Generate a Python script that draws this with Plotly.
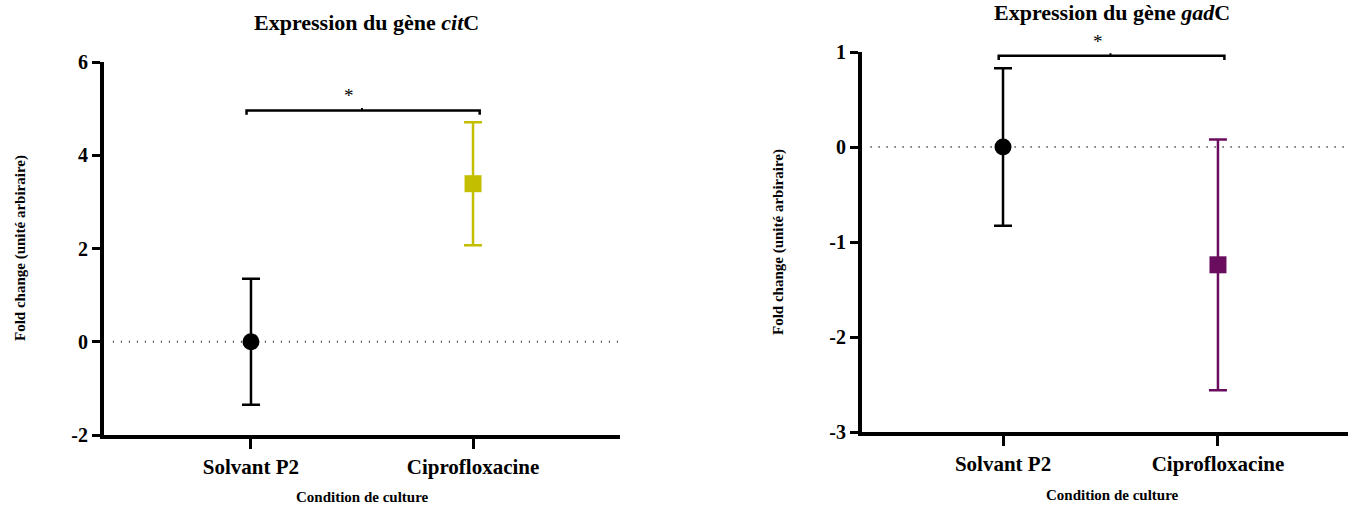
import plotly.graph_objects as go

W, H = 1348, 509

categories = ["Solvant P2", "Ciprofloxacine"]

# citC
cit_means = [0.0, 3.39]
cit_err = [1.35, 1.32]
cit_colors = ["#000000", "#C4BE00"]
cit_symbols = ["circle", "square"]
cit_bracket_y = 4.96
cit_yticks = [-2, 0, 2, 4, 6]

# gadC
gad_means = [0.0, -1.24]
gad_err = [0.83, 1.32]
gad_colors = ["#000000", "#6A0D5F"]
gad_symbols = ["circle", "square"]
gad_bracket_y = 0.96
gad_yticks = [-3, -2, -1, 0, 1]

FONT = "Liberation Serif"

fig = go.Figure()

def add_panel(xa, ya, means, errs, colors, symbols, by, drop, xr):
    xs = list(range(len(categories)))
    fig.add_trace(go.Scatter(x=[xr[0] + 0.04, xr[1]], y=[0, 0], mode="lines",
                             line=dict(color="#333333", width=2, dash="1px,7px"),
                             xaxis=xa, yaxis=ya, showlegend=False, hoverinfo="skip"))
    for i in xs:
        fig.add_trace(go.Scatter(
            x=[i], y=[means[i]], mode="markers",
            marker=dict(color=colors[i], symbol=symbols[i], size=17,
                        line=dict(width=0)),
            error_y=dict(type="data", array=[errs[i]], visible=True,
                         color=colors[i], thickness=2.5, width=9),
            xaxis=xa, yaxis=ya, showlegend=False))
    fig.add_trace(go.Scatter(
        x=[-0.02, -0.02, 1.03, 1.03], y=[by - drop, by, by, by - drop],
        mode="lines", line=dict(color="black", width=2.5),
        xaxis=xa, yaxis=ya, showlegend=False, hoverinfo="skip"))
    fig.add_trace(go.Scatter(
        x=[0.5, 0.5], y=[by, by + drop * 0.6],
        mode="lines", line=dict(color="black", width=2),
        xaxis=xa, yaxis=ya, showlegend=False, hoverinfo="skip"))
    fig.add_annotation(x=0.44, y=by, xref=xa, yref=ya, text="*", showarrow=False,
                       yanchor="bottom", yshift=2,
                       font=dict(family=FONT, size=19, color="black"))

add_panel("x", "y", cit_means, cit_err, cit_colors, cit_symbols, cit_bracket_y, 0.09, [-0.662, 1.662])
add_panel("x2", "y2", gad_means, gad_err, gad_colors, gad_symbols, gad_bracket_y, 0.045, [-0.656, 1.605])

axis_common = dict(showline=True, linecolor="black", linewidth=4, ticks="outside",
                   tickwidth=3, tickcolor="black", ticklen=10, showgrid=False,
                   zeroline=False, automargin=False,
                   tickfont=dict(family=FONT, size=21, color="black", weight="bold"))

fig.update_layout(
    width=W, height=H, margin=dict(l=0, r=0, t=0, b=0, pad=0, autoexpand=False),
    paper_bgcolor="white", plot_bgcolor="white",
    xaxis=dict(**axis_common, domain=[104 / W, 620 / W], range=[-0.662, 1.662],
               tickvals=[0, 1], ticktext=categories, anchor="y"),
    yaxis=dict(**axis_common, domain=[1 - 435 / H, 1 - 62 / H], range=[-2, 6],
               tickvals=cit_yticks, ticktext=[str(v) for v in cit_yticks], anchor="x"),
    xaxis2=dict(**axis_common, domain=[862 / W, 1.0], range=[-0.656, 1.605],
                tickvals=[0, 1], ticktext=categories, anchor="y2"),
    yaxis2=dict(**axis_common, domain=[1 - 432 / H, 1 - 52 / H], range=[-3, 1],
                tickvals=gad_yticks, ticktext=[str(v) for v in gad_yticks], anchor="x2"),
)
fig.update_yaxes(ticklen=8, tickfont=dict(size=20))

title_font = dict(family=FONT, size=22, color="black", weight="bold")
label_font = dict(family=FONT, size=15, color="black", weight="bold")

def ann(x, y, text, font, angle=0):
    fig.add_annotation(x=x / W, y=1 - y / H, xref="paper", yref="paper",
                       xanchor="center", yanchor="middle", text=text,
                       showarrow=False, font=font, textangle=angle)

ann(366, 22, "Expression du gène <i>cit</i>C", title_font)
ann(1112, 12, "Expression du gène <i>gad</i>C", title_font)
ann(362, 497, "Condition de culture", label_font)
ann(1112, 495, "Condition de culture", label_font)
ann(20, 248, "Fold change (unité arbiraire)", label_font, -90)
ann(779, 242, "Fold change (unité arbiraire)", label_font, -90)

fig.write_html("out.html", config={"displayModeBar": False},
               post_script="document.body.style.margin='0px';")
